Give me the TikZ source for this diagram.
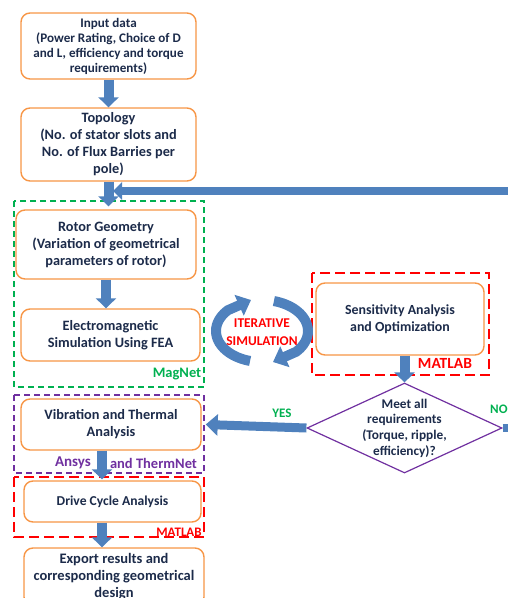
\documentclass[tikz,border=0pt]{standalone}
\usepackage{fontspec}
\setmainfont{Carlito}
\usetikzlibrary{arrows.meta,shapes.geometric,calc}
\definecolor{orng}{HTML}{F79646}
\definecolor{barrow}{HTML}{4F81BD}
\definecolor{txt}{HTML}{1C2B4A}
\definecolor{grn}{HTML}{00B050}
\definecolor{redc}{HTML}{FF0000}
\definecolor{purp}{HTML}{7030A0}
\tikzset{
  box/.style={draw=orng, line width=1.4pt, rounded corners=9pt, fill=white, align=center,
    text=txt, font=\fontsize{14.3}{17}\selectfont\bfseries, inner sep=0pt},
  blk/.style={draw=barrow, line width=10pt, line join=miter, -{Triangle[width=20pt,length=10pt]}},
  fbk/.style={draw=barrow, line width=8.5pt, line join=miter, -{Triangle[width=17pt,length=9pt]}},
  iter/.style={draw=barrow, line width=10pt, -{Triangle[width=22pt,length=13pt]}},
  gdash/.style={draw=grn, line width=1.2pt, dash pattern=on 6pt off 4pt},
  rdash/.style={draw=redc, line width=1.5pt, dash pattern=on 10pt off 5pt},
  pdash/.style={draw=purp, line width=1.2pt, dash pattern=on 6pt off 4pt},
  lbl/.style={font=\fontsize{14.5}{17}\selectfont\bfseries, inner sep=0pt},
}
\begin{document}
\begin{tikzpicture}[x=1pt,y=-1pt]
\useasboundingbox (0,0) rectangle (508,598);
\clip (0,0) rectangle (508,598);
% dashed tool frames
\draw[gdash] (14,201) rectangle (204,387);
\draw[rdash] (312,273) rectangle (489,375);
\draw[pdash] (14,395) rectangle (204,473);
\draw[rdash] (14,477) rectangle (204,537);
% process boxes
\node[box, font=\fontsize{13.1}{15}\selectfont\bfseries, minimum width=175pt, minimum height=66pt] (input) at (108.5,46)
  {Input data\\(Power Rating, Choice of D\\and L, efficiency and torque\\requirements)};
\node[box, minimum width=175pt, minimum height=73pt] (topo) at (108.5,144.5)
  {Topology\\(No. of stator slots and\\No. of Flux Barries per\\pole)};
\node[box, minimum width=180pt, minimum height=69pt] (rotor) at (106,244.5)
  {Rotor Geometry\\(Variation of geometrical\\parameters of rotor)};
\node[box, minimum width=179pt, minimum height=52pt] (em) at (110.5,335)
  {Electromagnetic\\Simulation Using FEA};
\node[box, font=\fontsize{13.9}{17}\selectfont\bfseries, minimum width=168pt, minimum height=72pt] (sens) at (400,319)
  {Sensitivity Analysis\\and Optimization};
\node[diamond, draw=purp, line width=1.2pt, minimum width=195pt, minimum height=90pt, inner sep=0pt] (dia) at (404.5,428) {};
\node[align=center, text=txt, font=\fontsize{13.3}{15.7}\selectfont\bfseries] (diatext) at (dia.center)
  {Meet all\\requirements\\(Torque, ripple,\\efficiency)?};
\node[box, minimum width=180pt, minimum height=51pt] (vib) at (111,424.5)
  {Vibration and Thermal\\Analysis};
\node[box, font=\fontsize{13.6}{17}\selectfont\bfseries, minimum width=177pt, minimum height=41pt] (drive) at (112.5,501.5)
  {Drive Cycle Analysis};
\node[box, font=\fontsize{14.5}{17}\selectfont\bfseries, minimum width=180pt, minimum height=58pt] (export) at (114,577)
  {Export results and\\corresponding geometrical\\design};
% connectors
\coordinate (cx) at (102,0);
\coordinate (fb) at (113,191);
\coordinate (nocorner) at (535,428);
\draw[blk] (input.south) -- (input.south |- topo.north);
\draw[blk] (topo.south) -- ($(topo.south |- rotor.north)+(0,-3)$);
\draw[fbk] (dia.east) -- (nocorner) |- (fb);
\draw[blk] (rotor.south) -- (rotor.south |- em.north);
\draw[blk] (dia.north |- sens.south) -- (dia.north);
\draw[draw=barrow, line width=9pt, -{Triangle[width=21pt,length=12pt]}] (dia.west) -- ($(vib.east)+(4,0)$);
\draw[blk] (vib.south -| cx) -- ($(drive.north -| cx)+(0,-1)$);
\draw[blk] (drive.south -| cx) -- (export.north -| cx);
% iterative simulation arrows
\coordinate (itl) at (251,300);
\coordinate (itr) at (273,362);
\draw[iter] plot[domain=105:222, samples=30] ({262+46*cos(\x)},{331+31*sin(\x)}) -- (itl);
\draw[iter] plot[domain=285:402, samples=30] ({262+46*cos(\x)},{331+31*sin(\x)}) -- (itr);
% labels
\node[lbl, text=redc, font=\fontsize{13.4}{18}\selectfont\bfseries, align=center] (itlbl) at (262,332) {ITERATIVE\\SIMULATION};
\node[lbl, text=grn] (magnet) at (177,374) {MagNet};
\node[lbl, text=redc, font=\fontsize{15.5}{17}\selectfont\bfseries] (matlab1) at (445,363) {MATLAB};
\node[lbl, text=purp, font=\fontsize{15}{17}\selectfont\bfseries] (ansys) at (73,463) {Ansys};
\node[lbl, text=purp] (thermnet) at (153.5,463) {and ThermNet};
\node[lbl, text=redc, font=\fontsize{13}{15}\selectfont\bfseries] (matlab2) at (179,532) {MATLAB};
\node[lbl, text=grn, font=\fontsize{13}{15}\selectfont\bfseries] (yes) at (282,413) {YES};
\node[lbl, text=grn, font=\fontsize{13}{15}\selectfont\bfseries, anchor=west] (no) at (490,409) {NO};
\end{tikzpicture}
\end{document}
